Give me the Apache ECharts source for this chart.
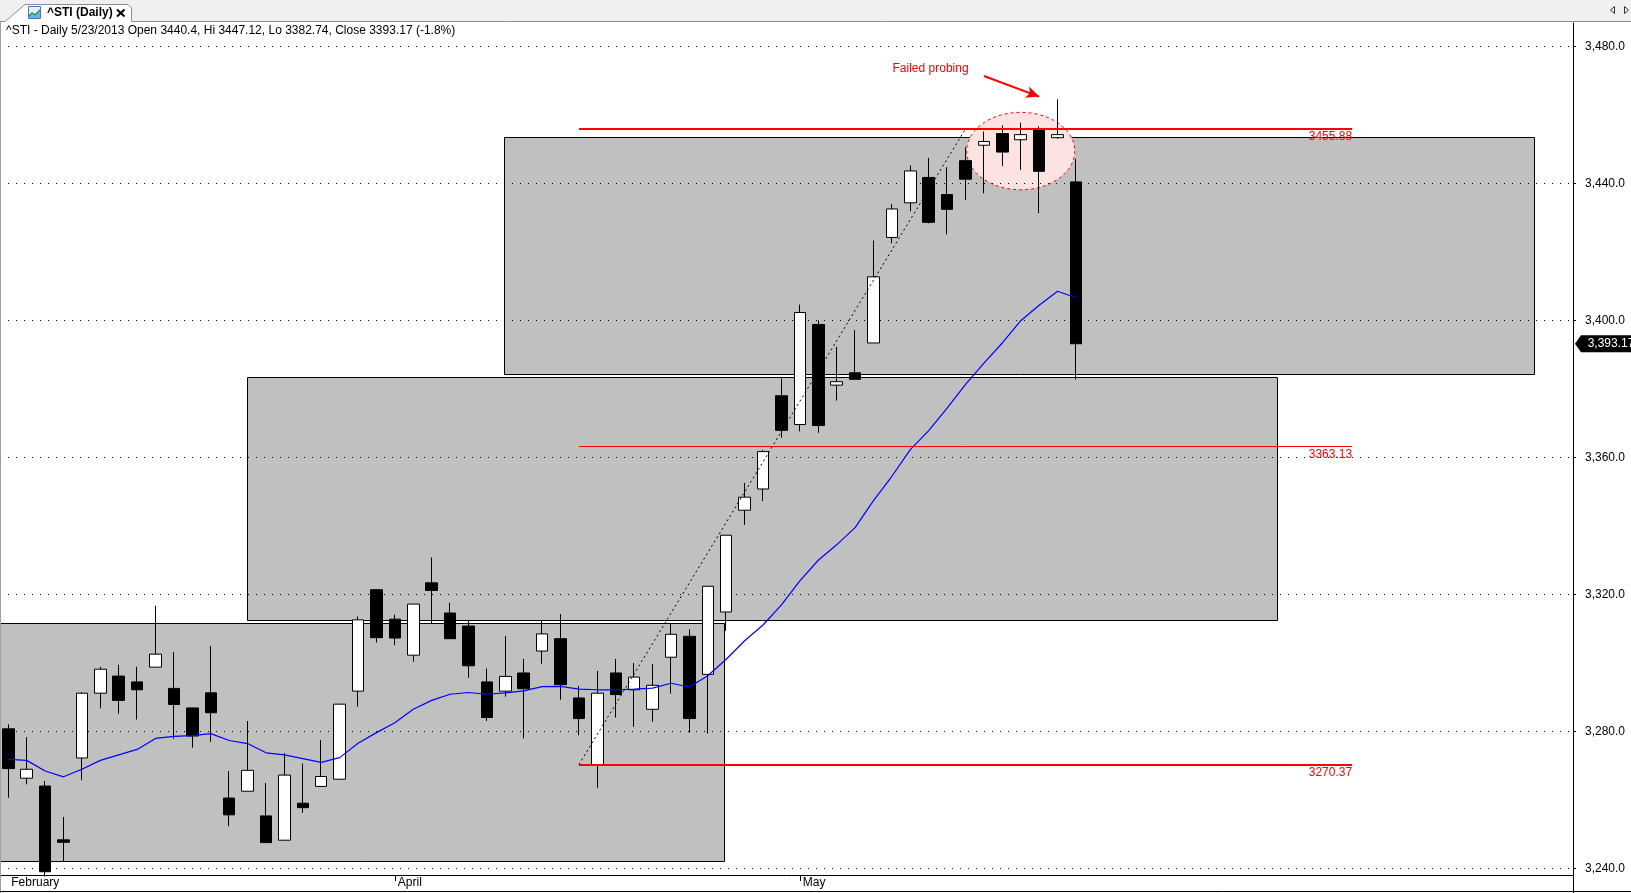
<!DOCTYPE html>
<html><head><meta charset="utf-8">
<script src="https://cdn.jsdelivr.net/npm/echarts@6/dist/echarts.min.js"></script>
<style>html,body{margin:0;padding:0;background:#fff;overflow:hidden}#c{width:1631px;height:893px}</style>
</head><body><div id="c"></div>
<script>
// ---------- data ----------
const dates = ['2/28/2013',
 '3/1/2013','3/4/2013','3/5/2013','3/6/2013','3/7/2013','3/8/2013','3/11/2013','3/12/2013','3/13/2013','3/14/2013',
 '3/15/2013','3/18/2013','3/19/2013','3/20/2013','3/21/2013','3/22/2013','3/25/2013','3/26/2013','3/27/2013','3/28/2013',
 '4/1/2013','4/2/2013','4/3/2013','4/4/2013','4/5/2013','4/8/2013','4/9/2013','4/10/2013','4/11/2013','4/12/2013',
 '4/15/2013','4/16/2013','4/17/2013','4/18/2013','4/19/2013','4/22/2013','4/23/2013','4/24/2013','4/25/2013','4/26/2013',
 '4/29/2013','4/30/2013',
 '5/2/2013','5/3/2013','5/6/2013','5/7/2013','5/8/2013','5/9/2013','5/10/2013','5/13/2013','5/14/2013','5/15/2013',
 '5/16/2013','5/17/2013','5/20/2013','5/21/2013','5/22/2013','5/23/2013'];
const open  = [3280.8,3266.4,3264.1,3248.4,3272.3,3291.2,3296.2,3294.5,3298.8,3292.6,3286.9,3291.3,3260.6,3262.6,3255.4,3248.3,3259.1,3264.0,3266.1,3291.8,3321.4,
 3312.8,3302.3,3323.4,3314.6,3310.8,3294.5,3291.8,3297.1,3303.5,3307.1,3289.8,3270.2,3297.1,3292.2,3286.5,3301.7,3307.8,3296.7,3314.9,3344.6,3350.8,3378.0,
 3369.6,3398.8,3381.1,3384.7,3393.4,3424.2,3434.3,3441.7,3436.7,3446.6,3451.1,3454.5,3452.7,3455.8,3453.3,3440.4];
const high  = [3282.1,3278.4,3265.6,3255.1,3291.5,3298.9,3299.5,3298.9,3316.7,3303.2,3287.0,3305.0,3268.5,3283.1,3265.0,3273.7,3270.7,3277.5,3288.0,3313.6,3321.4,
 3314.1,3317.2,3330.8,3317.6,3312.6,3298.4,3307.9,3301.2,3312.6,3314.3,3293.3,3297.7,3301.2,3300.0,3299.7,3311.4,3309.8,3322.4,3337.3,3352.6,3362.2,3383.1,
 3404.6,3400.0,3392.3,3397.2,3423.3,3434.0,3445.2,3447.4,3444.7,3450.5,3455.1,3456.9,3457.7,3456.6,3464.5,3447.12];
const low   = [3260.7,3264.6,3237.7,3242.0,3265.8,3286.8,3285.2,3283.5,3298.8,3277.9,3275.3,3277.0,3252.4,3262.6,3247.6,3248.3,3256.3,3264.0,3266.1,3287.3,3306.0,
 3305.2,3300.4,3311.5,3307.1,3295.7,3283.1,3290.2,3278.0,3299.8,3289.3,3278.9,3263.6,3284.1,3281.4,3282.9,3291.1,3279.7,3279.4,3309.4,3340.3,3347.3,3365.7,
 3367.6,3367.2,3376.6,3382.8,3393.4,3422.5,3431.8,3428.3,3425.1,3435.1,3437.1,3445.0,3443.9,3431.3,3453.0,3382.74];
const close = [3269.2,3269.0,3239.1,3247.7,3291.2,3298.2,3289.1,3292.2,3302.6,3287.9,3278.7,3285.5,3255.7,3268.7,3247.6,3267.3,3257.8,3266.9,3288.0,3312.6,3307.4,
 3307.3,3317.2,3321.2,3307.1,3299.2,3284.1,3296.1,3292.5,3308.5,3293.7,3283.8,3291.2,3290.8,3295.9,3293.5,3308.4,3283.8,3322.4,3337.3,3348.4,3361.7,3367.9,
 3402.3,3369.3,3382.1,3382.8,3412.7,3432.5,3443.6,3428.6,3432.4,3441.2,3452.2,3449.1,3454.2,3443.5,3454.2,3393.17];
const ma    = [3271.9,3271.6,3268.5,3266.8,3269.0,3271.6,3273.2,3274.8,3278.0,3278.6,3278.8,3279.4,3277.4,3276.5,3273.8,3273.2,3272.1,3271.0,3272.4,3276.6,3279.7,
 3282.6,3286.5,3289.1,3290.9,3291.4,3290.9,3291.3,3291.9,3293.1,3293.2,3292.4,3292.2,3292.2,3292.4,3292.7,3294.1,3293.0,3296.3,3301.1,3306.5,3311.1,3317.0,
 3324.0,3330.0,3334.5,3339.5,3347.4,3354.5,3362.3,3367.8,3374.4,3381.3,3387.5,3393.4,3399.9,3404.4,3408.5,3406.6];

const yTickValues = [3240, 3280, 3320, 3360, 3400, 3440, 3480];
const monthTickIdx = [0, 21, 43];
const monthTickNames = ['February', 'April', 'May'];

// horizontal price levels (red) and their span in bars
const levelValues = [3455.88, 3363.13, 3270.37];
const levelWidths = [2, 1, 2];
const levelStart = 31, levelEnd = 73;
// dotted trend line
const trendFrom = [31, 3270.37], trendTo = [52, 3455.88];
// grey boxes: [startBar, endBar, low, high]
const boxStart = [-18, 12.95, 26.95];
const boxEnd   = [38.9, 68.93, 82.9];
const boxLow   = [3242.1, 3312.6, 3384.3];
const boxHigh  = [3311.7, 3383.4, 3453.6];
// "failed probing" annotation
const probeEllipse = [55, 3449.4, 2.94, 11.3]; // centre bar, centre value, x radius (bars), y radius (points)
const probeText = 'Failed probing';
const probeTextAt = [50.1, 3473.5];
const probeArrowFrom = [53, 3471.3], probeArrowTo = [56, 3465.3];

// ---------- chart ----------
const FONT = '"Liberation Sans", Arial, sans-serif';
const n = dates.length;
const last = n - 1;
const pct = ((close[last] - close[last - 1]) / close[last - 1] * 100).toFixed(1);
const titleText = '^STI - Daily ' + dates[last] + ' Open ' + open[last] + ', Hi ' + high[last] +
  ', Lo ' + low[last] + ', Close ' + close[last] + ' (' + pct + '%)';
const fmt1 = v => v.toLocaleString('en-US', {minimumFractionDigits: 1, maximumFractionDigits: 1});
const fmt2 = v => v.toLocaleString('en-US', {minimumFractionDigits: 2, maximumFractionDigits: 2});

const candleData = dates.map((d, i) => [i, open[i], close[i], low[i], high[i]]);
const maData = ma.map((v, i) => [i, v]);
const boxData = boxStart.map((s, i) => [s, boxEnd[i], boxLow[i], boxHigh[i]]);

const X_MIN = -0.45, X_MAX = 85;

const chart = echarts.init(document.getElementById('c'), null, {renderer: 'canvas'});
chart.setOption({
  animation: false,
  backgroundColor: '#ffffff',
  textStyle: {fontFamily: FONT},
  title: {
    text: titleText, left: 6, top: 25, padding: 0,
    textStyle: {fontSize: 12, fontWeight: 'normal', color: '#000', fontFamily: FONT}
  },
  grid: {left: 0, right: 58, top: 23, bottom: 18, containLabel: false},
  xAxis: {
    type: 'value', min: X_MIN, max: X_MAX,
    axisLine: {show: true, onZero: false, lineStyle: {color: '#000', width: 1}},
    axisTick: {show: true, customValues: monthTickIdx.slice(1), length: 6, lineStyle: {color: '#000'}},
    axisLabel: {
      customValues: monthTickIdx,
      formatter: v => monthTickNames[monthTickIdx.indexOf(Math.round(v))] || '',
      align: 'left', margin: 2, padding: [0, 0, 0, 3],
      fontSize: 12, color: '#000', fontFamily: FONT
    },
    splitLine: {show: false}
  },
  yAxis: {
    type: 'value', position: 'right', min: 3238.15, max: 3486.77,
    axisLine: {show: true, onZero: false, lineStyle: {color: '#000', width: 1}},
    axisTick: {show: true, customValues: yTickValues, length: 3, lineStyle: {color: '#000'}},
    axisLabel: {customValues: yTickValues, formatter: v => fmt1(v), margin: 12,
      fontSize: 12, color: '#000', fontFamily: FONT},
    splitLine: {show: true, lineStyle: {color: '#000', width: 1, type: [1, 7]}}
  },
  series: [
    {
      type: 'custom', name: 'boxes', z: -2, clip: true, silent: true,
      data: boxData,
      encode: {x: [0, 1], y: [2, 3]},
      renderItem: function (params, api) {
        const p0 = api.coord([api.value(0), api.value(3)]);
        const p1 = api.coord([api.value(1), api.value(2)]);
        return {
          type: 'rect',
          shape: {x: Math.round(p0[0]) + 0.5, y: Math.round(p0[1]) + 0.5,
                  width: Math.round(p1[0]) - Math.round(p0[0]), height: Math.round(p1[1]) - Math.round(p0[1])},
          style: {fill: '#c0c0c0', stroke: '#000', lineWidth: 1}
        };
      }
    },
    {
      type: 'custom', name: 'probe', z: -1, clip: false, silent: true,
      data: [probeEllipse],
      encode: {x: 0, y: 1},
      renderItem: function (params, api) {
        const c = api.coord([api.value(0), api.value(1)]);
        const s = api.size([api.value(2), api.value(3)]);
        const pts = [];
        for (let k = 0; k < 90; k++) {
          const t = k / 90 * Math.PI * 2;
          pts.push([c[0] + s[0] * Math.cos(t), c[1] + s[1] * Math.sin(t)]);
        }
        return {type: 'polygon', shape: {points: pts},
          style: {fill: '#fde2e2', stroke: '#ff0000', lineWidth: 1, lineDash: [3, 3]}};
      }
    },
    {
      type: 'candlestick', name: '^STI', data: candleData,
      encode: {x: 0, y: [1, 2, 3, 4]},
      barWidth: 12, clip: true, silent: true,
      itemStyle: {color: '#ffffff', color0: '#000000', borderColor: '#000000', borderColor0: '#000000',
        borderColorDoji: '#000000', borderWidth: 1},
      markPoint: {
        silent: true,
        data: [{
          coord: [X_MAX, close[last]],
          symbol: 'path://M0,8.5 L6,0 L66,0 L66,17 L6,17 Z',
          symbolSize: [66, 17], symbolOffset: [35, 0], symbolKeepAspect: false,
          itemStyle: {color: '#000'},
          label: {show: true, position: 'inside', offset: [3, 0], formatter: fmt2(close[last]),
            color: '#fff', fontSize: 12, fontFamily: FONT}
        }]
      }
    },
    {
      type: 'line', name: 'MA', data: maData, showSymbol: false, symbol: 'none', silent: true,
      lineStyle: {color: '#0000ff', width: 1.2}, z: 3,
      markLine: {
        silent: true, symbol: ['none', 'none'], precision: 2,
        data: levelValues.map((v, i) => [
          {coord: [levelStart, v], lineStyle: {color: '#ff0000', width: levelWidths[i], type: 'solid'},
           label: {show: true, position: 'insideEndBottom', formatter: v.toFixed(2), color: '#ff0000',
             fontSize: 12, fontFamily: FONT, distance: [0, 2]}},
          {coord: [levelEnd, v]}
        ]).concat([
          [{coord: trendFrom, lineStyle: {color: '#000', width: 1, type: [2, 3]}, label: {show: false}},
           {coord: trendTo}],
          [{coord: probeArrowFrom, symbol: 'none', lineStyle: {color: '#ff0000', width: 2, type: 'solid'}, label: {show: false}},
           {coord: probeArrowTo, symbol: 'arrow', symbolSize: [9, 13]}]
        ])
      },
      markPoint: {
        silent: true,
        data: [{coord: probeTextAt, symbol: 'rect', symbolSize: 1, itemStyle: {color: 'rgba(0,0,0,0)'},
          label: {show: true, position: 'inside', formatter: probeText, color: '#ff0000', fontSize: 12, fontFamily: FONT}}]
      }
    }
  ],
  graphic: [
    {type: 'rect', silent: true, z: 100, shape: {x: 0, y: 0, width: 1631, height: 22}, style: {fill: '#f0f0f0'}},
    {type: 'polygon', silent: true, z: 101, shape: {points: [[5, 22], [25, 5], [128, 5], [131.5, 8.5], [131.5, 22]]}, style: {fill: '#ffffff'}},
    {type: 'polyline', silent: true, z: 102, shape: {points: [[0, 21.5], [5, 21.5], [25, 4.5], [128, 4.5], [131.5, 8], [131.5, 21.5], [1631, 21.5]]},
      style: {stroke: '#8a8f97', fill: null, lineWidth: 1}},
    {type: 'rect', silent: true, z: 102, shape: {x: 28.5, y: 6.5, width: 12, height: 12}, style: {fill: '#e4f0fb', stroke: '#3d7cc0', lineWidth: 1}},
    {type: 'polygon', silent: true, z: 103, shape: {points: [[29, 18], [29, 15], [32, 12], [35, 14], [40, 9], [40, 18]]}, style: {fill: '#6fb0e8'}},
    {type: 'polyline', silent: true, z: 104, shape: {points: [[29, 16], [32, 13], [35, 15], [40, 10]]}, style: {stroke: '#2f9a3a', fill: null, lineWidth: 1.2}},
    {type: 'text', silent: true, z: 103, x: 47, y: 13, style: {text: '^STI (Daily)', font: 'bold 12px ' + FONT, fill: '#000', verticalAlign: 'middle'}},
    {type: 'line', silent: true, z: 103, shape: {x1: 117, y1: 9.5, x2: 124.5, y2: 16.5}, style: {stroke: '#000', lineWidth: 2}},
    {type: 'line', silent: true, z: 103, shape: {x1: 124.5, y1: 9.5, x2: 117, y2: 16.5}, style: {stroke: '#000', lineWidth: 2}},
    {type: 'polygon', silent: true, z: 103, shape: {points: [[1614.5, 6.5], [1614.5, 13.5], [1610.5, 10]]}, style: {fill: null, stroke: '#333', lineWidth: 1}},
    {type: 'polygon', silent: true, z: 103, shape: {points: [[1624.5, 6.5], [1624.5, 13.5], [1628.5, 10]]}, style: {fill: null, stroke: '#333', lineWidth: 1}},
    {type: 'line', silent: true, z: 103, shape: {x1: 0.5, y1: 22, x2: 0.5, y2: 893}, style: {stroke: '#a0a0a0', lineWidth: 1}},
    {type: 'line', silent: true, z: 103, shape: {x1: 0, y1: 891.5, x2: 1631, y2: 891.5}, style: {stroke: '#000', lineWidth: 1}},
    {type: 'line', silent: true, z: 103, shape: {x1: 1573.5, y1: 875, x2: 1573.5, y2: 893}, style: {stroke: '#000', lineWidth: 1}}
  ]
});
</script>
</body></html>
